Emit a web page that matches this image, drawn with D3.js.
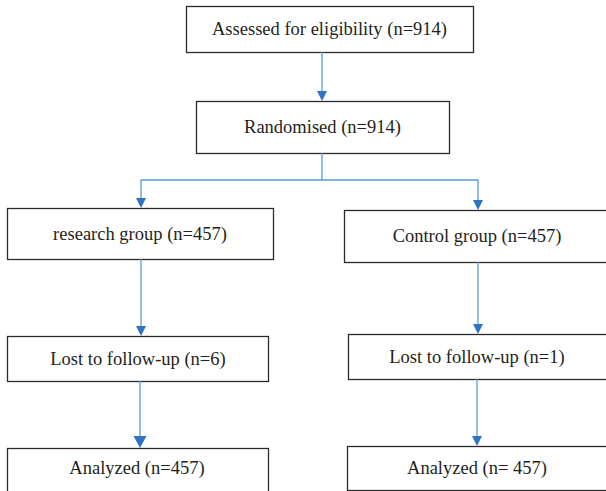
<!DOCTYPE html>
<html>
<head>
<meta charset="utf-8">
<script src="https://cdn.jsdelivr.net/npm/d3@7/dist/d3.min.js"></script>
<style>
  html, body { margin: 0; padding: 0; background: #fff; }
  svg { display: block; }
</style>
</head>
<body>
<svg id="chart" width="606" height="491"></svg>
<script>
// ---- data ----
const stageLabels = [
  "Assessed for eligibility (n=914)",
  "Randomised (n=914)"
];
const groupLabels = ["research group (n=457)", "Control group (n=457)"];
const lostLabels = ["Lost to follow-up (n=6)", "Lost to follow-up (n=1)"];
const analyzedLabels = ["Analyzed (n=457)", "Analyzed (n= 457)"];

// ---- layout (geometry kept separate from data) ----
const svg = d3.select("#chart");
const lineColor = "#5b9bd5";
const headColor = "#2e74c3";
const boxStroke = "#2b2b2b";
const textColor = "#231f20";

const boxes = [
  { label: stageLabels[0], x0: 186, x1: 473, y0: 6, y1: 52 },
  { label: stageLabels[1], x0: 196, x1: 449, y0: 101, y1: 153 },
  { label: groupLabels[0], x0: 7, x1: 273, y0: 208, y1: 259 },
  { label: groupLabels[1], x0: 344, x1: 620, y0: 210, y1: 262, cx: 477 },
  { label: lostLabels[0], x0: 7, x1: 268, y0: 336, y1: 381, cx: 138 },
  { label: lostLabels[1], x0: 348, x1: 620, y0: 334, y1: 379, cx: 477 },
  { label: analyzedLabels[0], x0: 7, x1: 268, y0: 448, y1: 510, cy: 468, cx: 137 },
  { label: analyzedLabels[1], x0: 347, x1: 620, y0: 446, y1: 490, cx: 477 }
];

const g = svg.append("g");

g.selectAll("rect.box")
  .data(boxes)
  .join("rect")
  .attr("class", "box")
  .attr("x", d => d.x0 + 0.5)
  .attr("y", d => d.y0 + 0.5)
  .attr("width", d => d.x1 - d.x0)
  .attr("height", d => d.y1 - d.y0)
  .attr("fill", "#fff")
  .attr("stroke", boxStroke)
  .attr("stroke-width", 1.3);

g.selectAll("text.lbl")
  .data(boxes)
  .join("text")
  .attr("class", "lbl")
  .attr("x", d => d.cx !== undefined ? d.cx : (d.x0 + d.x1) / 2)
  .attr("y", d => d.cy !== undefined ? d.cy : (d.y0 + d.y1) / 2)
  .attr("text-anchor", "middle")
  .attr("dominant-baseline", "central")
  .attr("font-family", "'Liberation Serif', 'Times New Roman', serif")
  .attr("font-size", 18.5)
  .attr("fill", textColor)
  .text(d => d.label);

const connectors = [
  { pts: [[322, 52], [322, 101]] },
  { pts: [[322, 153], [322, 180], [141, 180], [141, 208]] },
  { pts: [[322, 180], [478, 180], [478, 210]] },
  { pts: [[141, 259], [141, 336]] },
  { pts: [[478, 262], [478, 334]] },
  { pts: [[140, 381], [140, 448]], big: true },
  { pts: [[477, 379], [477, 446]] }
];

const line = d3.line();
g.selectAll("path.conn")
  .data(connectors)
  .join("path")
  .attr("class", "conn")
  .attr("d", d => {
    const p = d.pts.map(q => q.slice());
    const h = d.big ? 12 : 10;
    p[p.length - 1][1] -= h - 1;
    return line(p);
  })
  .attr("fill", "none")
  .attr("stroke", lineColor)
  .attr("stroke-width", 1.3);

g.selectAll("path.head")
  .data(connectors)
  .join("path")
  .attr("class", "head")
  .attr("d", d => {
    const [x, y] = d.pts[d.pts.length - 1];
    const w = d.big ? 6.5 : 5, h = d.big ? 12 : 10;
    return `M${x - w},${y - h}L${x + w},${y - h}L${x},${y}Z`;
  })
  .attr("fill", headColor);
</script>
</body>
</html>
